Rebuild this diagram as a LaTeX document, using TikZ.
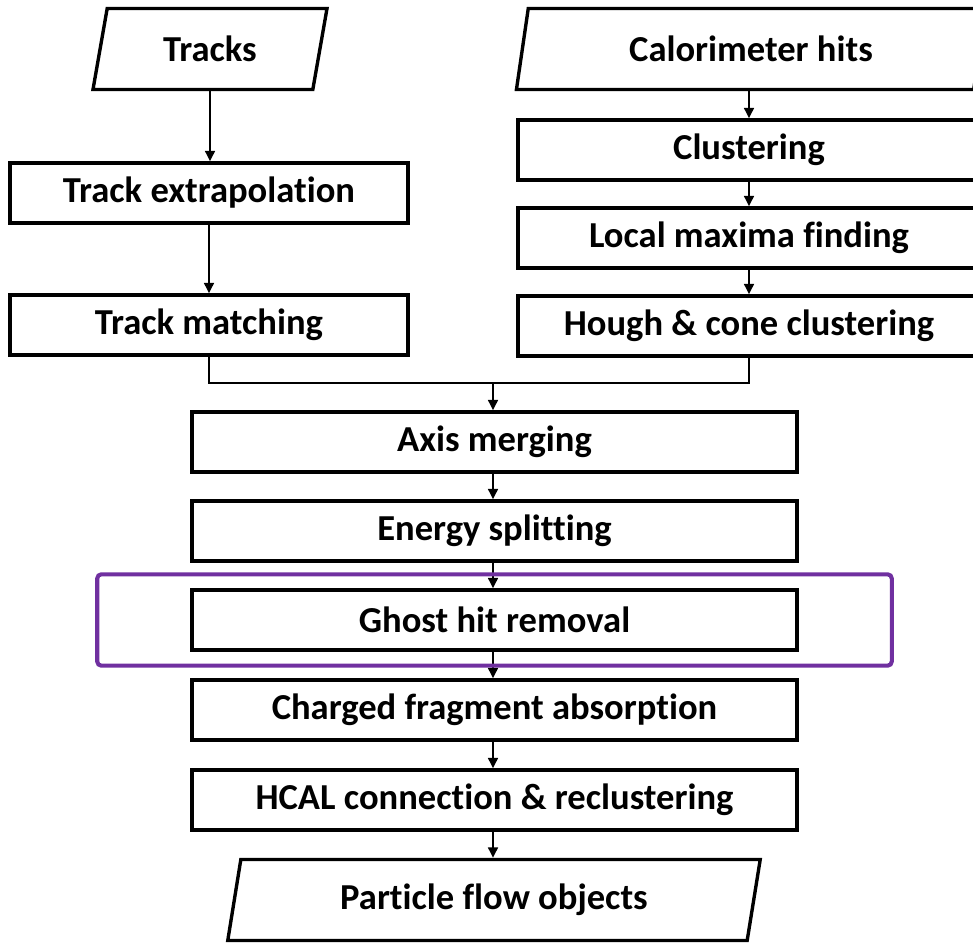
\documentclass[tikz,border=0pt]{standalone}
\usepackage{fontspec}
\setmainfont{Carlito}[Ligatures=NoCommon]
\usetikzlibrary{shapes.geometric,arrows.meta,fit}
\definecolor{hlpurple}{HTML}{7030A0}
\begin{document}
\begin{tikzpicture}[x=0.025cm, y=-0.025cm, line width=1.9pt,
    >={Triangle[length=2.6mm,width=2.4mm]},
    main/.style = {draw, line width=2.4pt, rectangle, minimum height=1.5cm, inner sep=0pt, font=\fontsize{26}{30}\selectfont\bfseries},
    io/.style = {draw, line width=2.4pt, trapezium, trapezium left angle=76, trapezium right angle=104, trapezium stretches=true, minimum height=2.025cm, inner sep=0pt, font=\fontsize{26}{30}\selectfont\bfseries},
    hl/.style = {draw=hlpurple, line width=2.9pt, rounded corners=3pt}]
    \useasboundingbox (0,0) rectangle (973,944);
    % Ingressi
    \node[io, minimum width=5.85cm] (tracks) at (210,49) {Tracks};
    \node[io, minimum width=11.73cm] (cal) at (751,49) {Calorimeter hits};

    % Ramo delle tracce
    \node[main, minimum width=9.95cm] (ext) at (209,193) {Track extrapolation};
    \node[main, minimum width=9.95cm] (match) at (209,325) {Track matching};

    % Ramo del calorimetro
    \node[main, minimum width=11.55cm] (clu) at (749,150) {Clustering};
    \node[main, minimum width=11.55cm] (lmf) at (749,238) {Local maxima finding};
    \node[main, minimum width=11.55cm] (hough) at (749,326) {Hough \& cone clustering};

    % Catena centrale
    \node[main, minimum width=15.125cm] (axis) at (494.5,442) {Axis merging};
    \node[main, minimum width=15.125cm] (split) at (494.5,531) {Energy splitting};
    \node[main, minimum width=15.125cm] (ghost) at (494.5,620) {Ghost hit removal};
    \node[main, minimum width=15.125cm] (charged) at (494.5,710) {Charged fragment absorption};
    \node[main, minimum width=15.125cm] (hcal) at (494.5,800) {HCAL connection \& reclustering};
    \node[io, minimum width=13.35cm] (pfo) at (494,900) {Particle flow objects};

    % Frecce
    \draw[->] (tracks.south) to (tracks.south |- ext.north);
    \draw[->] (ext) to (match);
    \draw[->] (cal.south -| clu.north) to (clu.north);
    \draw[->] (clu) to (lmf);
    \draw[->] (lmf) to (hough);
    \coordinate (join) at (493,383);
    \draw (match.south) |- (join) -| (hough.south);
    \draw[->] (join) to (join |- axis.north);
    \draw[->] (axis.south -| join) to (join |- split.north);
    \draw[->] (split.south -| join) to (join |- ghost.north);
    \draw[->] (ghost.south -| join) to (join |- charged.north);
    \draw[->] (charged.south -| join) to (join |- hcal.north);
    \draw[->] (hcal.south -| join) to (join |- pfo.north);

    % Evidenziazione
    \node[hl, fit=(ghost), inner xsep=2.325cm, inner ysep=0.35cm] (focus) {};
\end{tikzpicture}
\end{document}
